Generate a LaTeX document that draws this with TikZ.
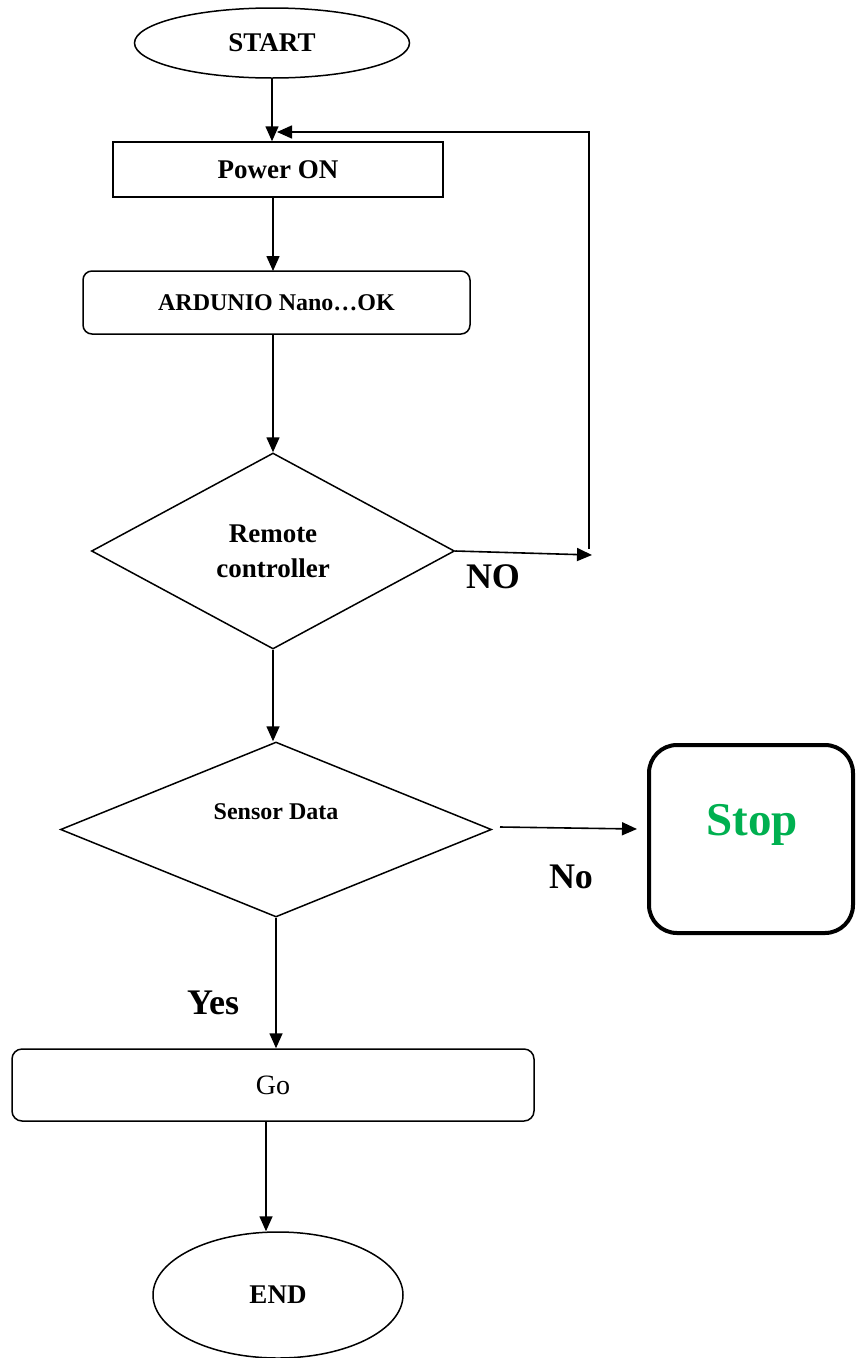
\documentclass[tikz,border=0pt]{standalone}
\usepackage{fontspec}
\setmainfont{Liberation Serif}
\usetikzlibrary{shapes.geometric,arrows.meta}
\definecolor{stopgreen}{RGB}{0,176,80}
\tikzset{
  box/.style={draw, line width=1.5pt, inner sep=0pt},
  arr/.style={line width=1.6pt, -{Triangle[length=15pt,width=13pt]}},
  fa/.style={font=\fontsize{27}{35}\selectfont\bfseries},
  fb/.style={font=\fontsize{24}{30}\selectfont\bfseries},
  fl/.style={font=\fontsize{36}{40}\selectfont\bfseries},
}
\begin{document}
\begin{tikzpicture}[x=1pt,y=-1pt]
\useasboundingbox (0,0) rectangle (857,1358);
\node[box, ellipse, minimum width=275, minimum height=70, fa] (start) at (272,43) {START};
\node[box, rectangle, minimum width=330, minimum height=55, fa] (power) at (278,169.5) {Power ON};
\node[box, rectangle, rounded corners=9, minimum width=387, minimum height=63, fb] (ard) at (276.5,302.5) {ARDUNIO Nano…OK};
\node[box, diamond, minimum width=363, minimum height=196, fa, align=center] (d1) at (273,551) {Remote\\controller};
\node[box, diamond, minimum width=431, minimum height=175] (d2) at (276,829.5) {};
\node[fb] (sdtext) at (276,812) {Sensor Data};
\node[draw, line width=4pt, rounded corners=28, minimum width=204, minimum height=188] (stop) at (751,839) {};
\node[font=\fontsize{47}{50}\selectfont\bfseries, text=stopgreen] (stoptext) at (752,825) {Stop};
\node[box, rectangle, rounded corners=10, minimum width=522, minimum height=72, font=\fontsize{28}{32}\selectfont] (go) at (273,1085) {Go};
\node[box, ellipse, minimum width=250, minimum height=126, fa] (end) at (278,1295) {END};

\node[fl] (nolab) at (493,577) {NO};
\node[fl] (nolab2) at (571,877) {No};
\node[fl] (yeslab) at (213,1003) {Yes};

\coordinate (noend) at (592,555);
\coordinate (loopA) at (589,549);
\coordinate (loopB) at (589,132);
\coordinate (loopC) at (277,132);
\coordinate (d2out) at (500,827);
\coordinate (stopin) at (637,829);
\coordinate (goout) at (266,1121);
\coordinate (ardout) at (273,334);

\draw[arr] (start.south) -- (start.south |- power.north);
\draw[arr] (273,197) -- (273,271);
\draw[arr] (ardout) -- (d1.north);
\draw[arr] (d1.south) -- (d1.south |- d2.north);
\draw[arr] (d2.south) -- (d2.south |- go.north);
\draw[arr] (goout) -- (goout |- end.north);
\draw[arr] (d1.east) -- (noend);
\draw[arr] (loopA) -- (loopB) -- (loopC);
\draw[arr] (d2out) -- (stopin);
\end{tikzpicture}
\end{document}
